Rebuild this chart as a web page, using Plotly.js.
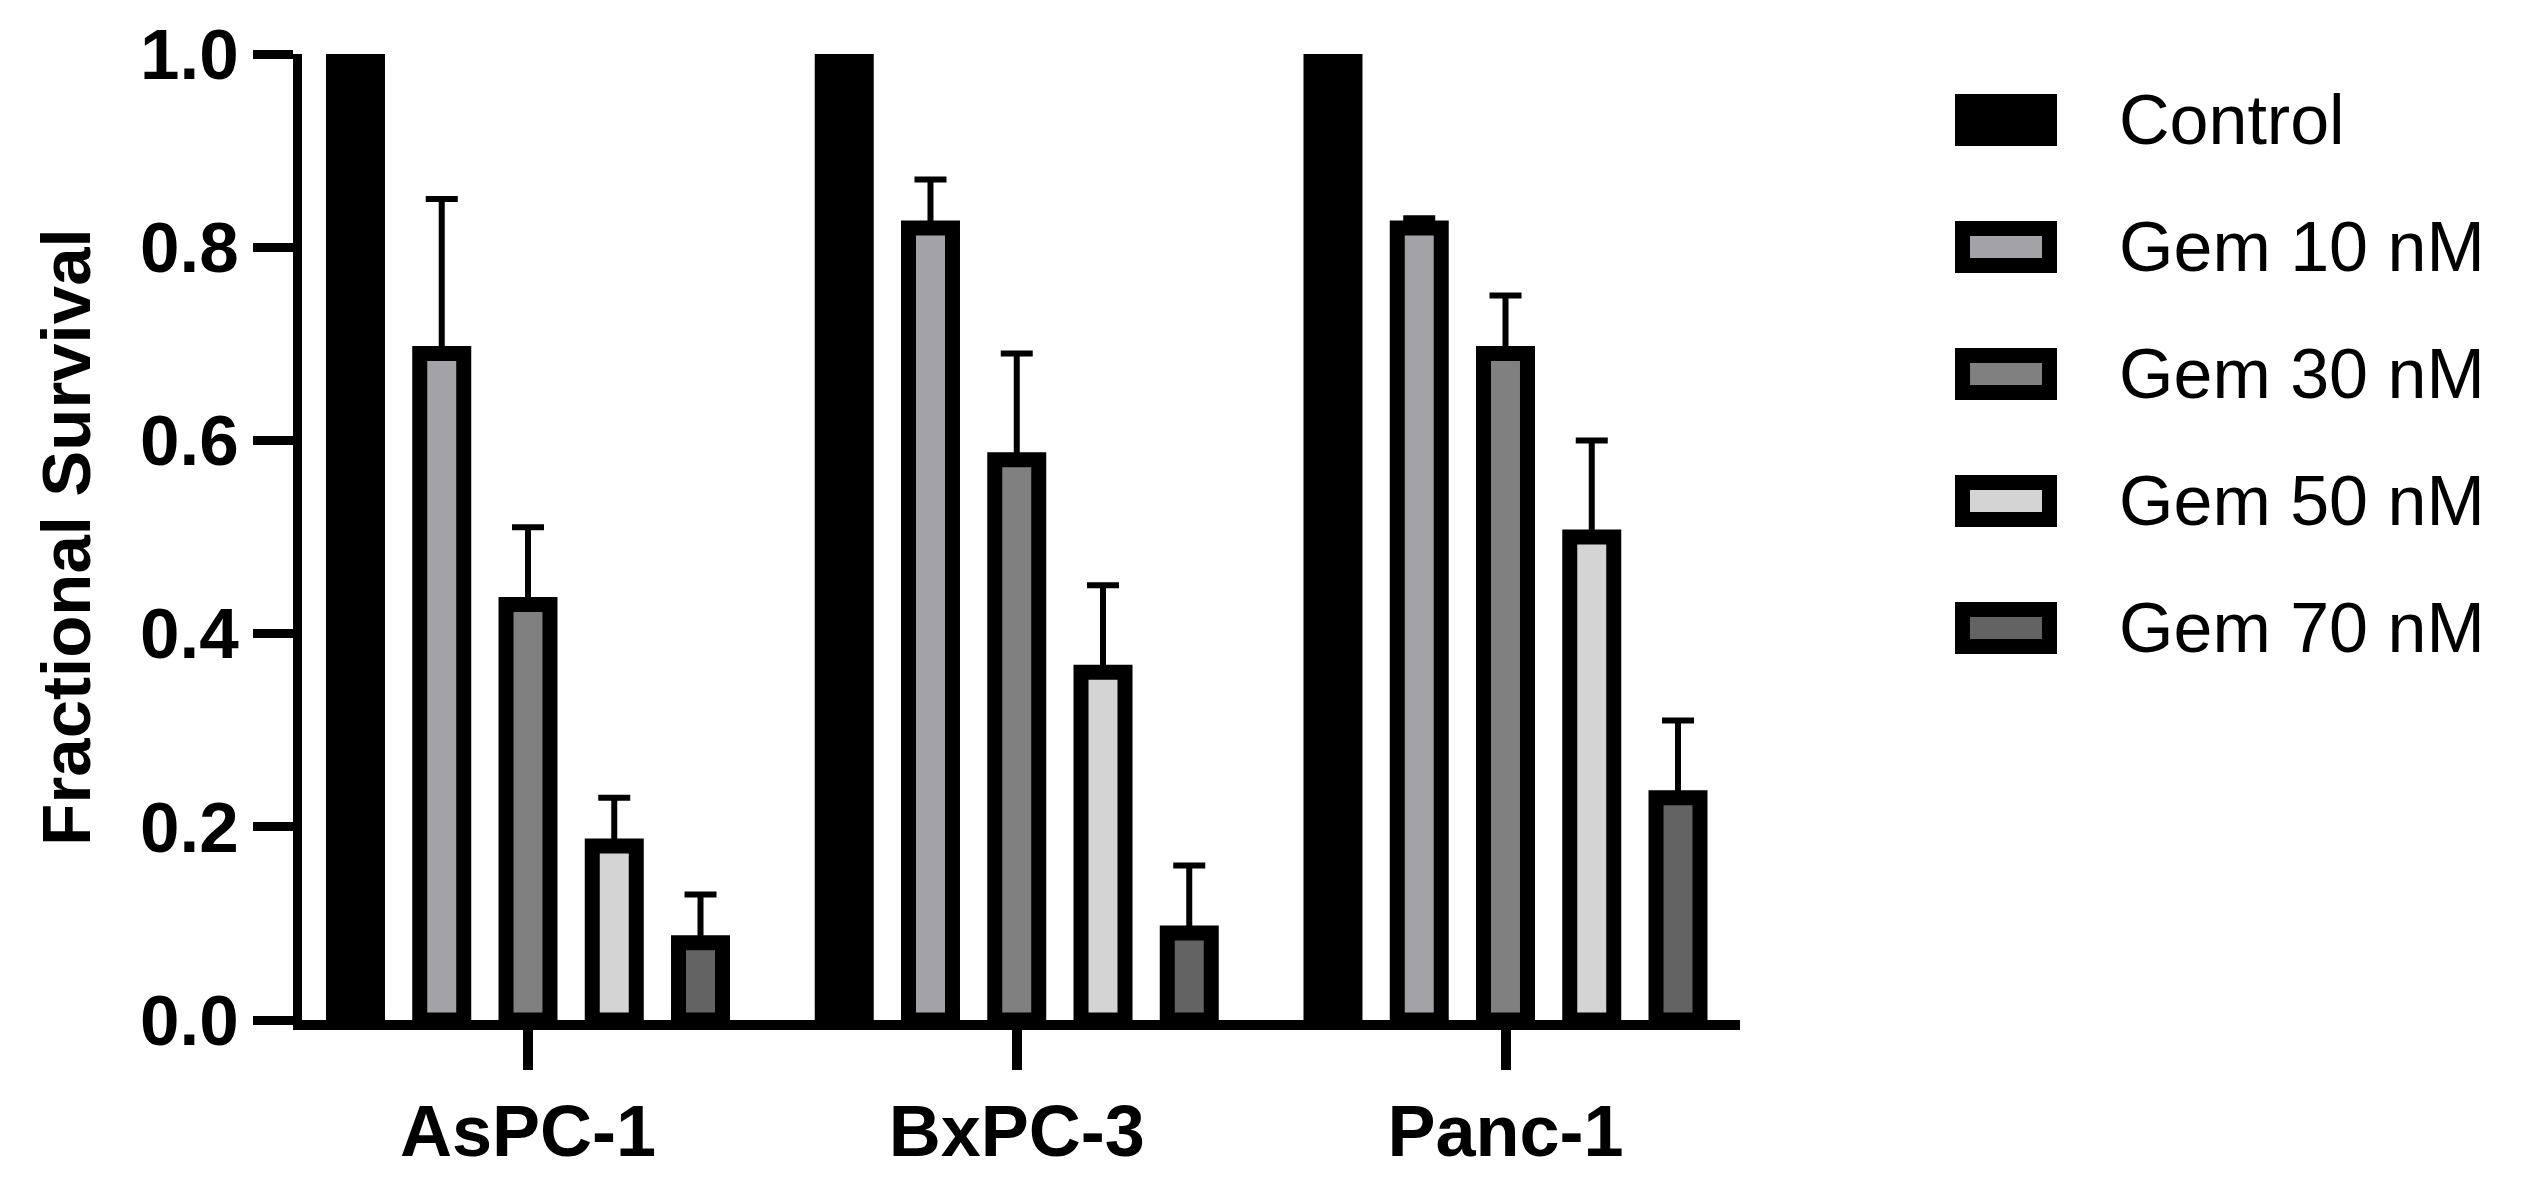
<!DOCTYPE html>
<html>
<head>
<meta charset="utf-8">
<script src="https://cdn.plot.ly/plotly-3.0.1.min.js"></script>
<style>
html,body{margin:0;padding:0;background:#ffffff;}
#chart{width:2544px;height:1183px;}
</style>
</head>
<body>
<div id="chart"></div>
<script>
// ---- data ----
const cellLines = ['AsPC-1', 'BxPC-3', 'Panc-1'];
const seriesNames = ['Control', 'Gem 10 nM', 'Gem 30 nM', 'Gem 50 nM', 'Gem 70 nM'];
const seriesColors = ['#000000', '#a3a2a7', '#808080', '#d4d4d4', '#636363'];

const control = [1.00, 1.00, 1.00];
const gem10   = [0.69, 0.82, 0.82];
const gem30   = [0.43, 0.58, 0.69];
const gem50   = [0.18, 0.36, 0.50];
const gem70   = [0.08, 0.09, 0.23];

const gem10Err = [0.16, 0.05, 0.01];
const gem30Err = [0.08, 0.11, 0.06];
const gem50Err = [0.05, 0.09, 0.10];
const gem70Err = [0.05, 0.07, 0.08];

const yTickVals = [0, 0.2, 0.4, 0.6, 0.8, 1.0];
const yTickText = ['0.0', '0.2', '0.4', '0.6', '0.8', '1.0'];

// ---- build ----
const seriesValues = [control, gem10, gem30, gem50, gem70];
const seriesErrors = [null, gem10Err, gem30Err, gem50Err, gem70Err];

const W = 2544, H = 1183;
const M = {l: 302, r: 804, t: 54, b: 163};
const plotW = W - M.l - M.r, plotH = H - M.t - M.b;
const px2x = p => (p - M.l) / plotW;
const px2y = p => (H - M.b - p) / plotH;

const FONT = '"Liberation Sans", Arial, Helvetica, sans-serif';

const traces = seriesNames.map((name, i) => {
  const t = {
    type: 'bar',
    name: name,
    x: cellLines,
    y: seriesValues[i],
    marker: {color: seriesColors[i], line: {color: '#000000', width: 15}},
    hoverinfo: 'x+y+name'
  };
  if (seriesErrors[i]) {
    t.error_y = {
      type: 'data', symmetric: false,
      array: seriesErrors[i],
      arrayminus: seriesErrors[i].map(() => 0),
      color: '#000000', thickness: 6, width: 16
    };
  }
  return t;
});

// custom legend (large swatches like the original)
const shapes = [], annotations = [];
seriesNames.forEach((name, i) => {
  const cy = 120 + i * 127;
  shapes.push({
    type: 'rect', xref: 'paper', yref: 'paper',
    x0: px2x(1962.5), x1: px2x(2049.5),
    y0: px2y(cy + 18.5), y1: px2y(cy - 18.5),
    fillcolor: seriesColors[i],
    line: {color: '#000000', width: 15}
  });
  annotations.push({
    xref: 'paper', yref: 'paper',
    x: px2x(2117), y: px2y(cy),
    xanchor: 'left', yanchor: 'middle',
    text: name, showarrow: false,
    font: {family: FONT, size: 70, color: '#000000'}
  });
});

const layout = {
  width: W, height: H,
  margin: M,
  paper_bgcolor: '#ffffff', plot_bgcolor: '#ffffff',
  showlegend: false,
  barmode: 'group',
  bargap: 0.1176,
  bargroupgap: 0.49,
  font: {family: FONT, color: '#000000'},
  xaxis: {
    type: 'category',
    range: [-0.4624, 2.4798],
    showline: true, linecolor: '#000000', linewidth: 10,
    ticks: 'outside', ticklen: 40, tickwidth: 10, tickcolor: '#000000',
    tickfont: {family: FONT, size: 72, weight: 'bold', color: '#000000'},
    showgrid: false, zeroline: false, fixedrange: true
  },
  yaxis: {
    range: [0, 1],
    tickvals: yTickVals, ticktext: yTickText,
    showline: true, linecolor: '#000000', linewidth: 9,
    ticks: 'outside', ticklen: 40, tickwidth: 9, tickcolor: '#000000',
    tickfont: {family: FONT, size: 71, weight: 'bold', color: '#000000'},
    showgrid: false, zeroline: false, fixedrange: true,
    title: {text: 'Fractional Survival', standoff: 30,
            font: {family: FONT, size: 69, weight: 'bold', color: '#000000'}}
  },
  shapes: shapes,
  annotations: annotations
};

Plotly.newPlot('chart', traces, layout, {staticPlot: true, displayModeBar: false});
</script>
</body>
</html>
